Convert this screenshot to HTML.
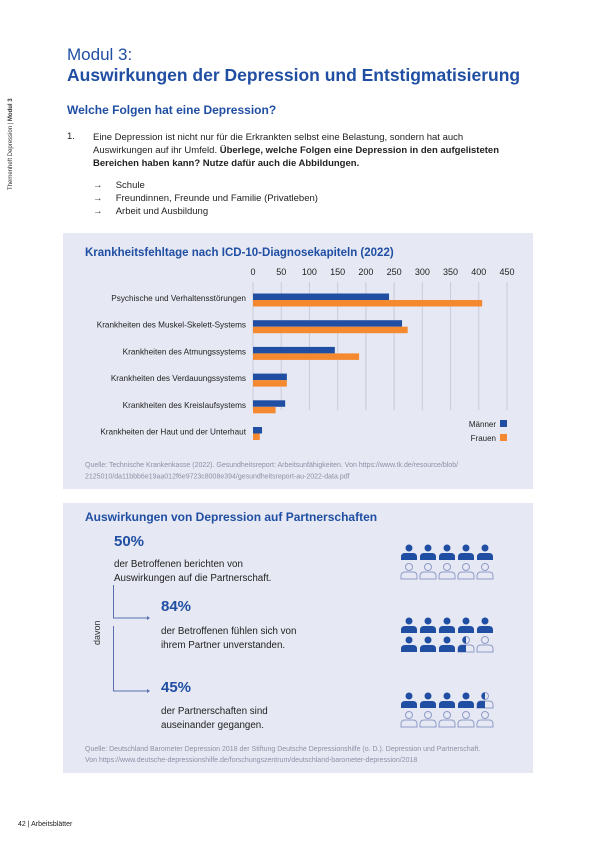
<!DOCTYPE html>
<html><head><meta charset="utf-8"><style>
body{margin:0;width:600px;height:850px;background:#fff;position:relative;overflow:hidden;font-family:"Liberation Sans",sans-serif;color:#222}
.a{position:absolute;white-space:nowrap}
.blue{color:#1f4ea3}
.card{position:absolute;background:#e6e8f3}
</style></head><body>
<div class="a" style="left:8px;top:190px;transform:rotate(-90deg);transform-origin:0 0;font-size:6px;color:#333">Themenheft Depression | <b>Modul 3</b></div>
<div class="a blue" style="left:67px;top:45px;font-size:17px">Modul 3:</div>
<div class="a blue" style="left:67px;top:65px;font-size:17.5px;font-weight:bold">Auswirkungen der Depression und Entstigmatisierung</div>
<div class="a blue" style="left:67px;top:103px;font-size:12px;font-weight:bold">Welche Folgen hat eine Depression?</div>
<div class="a" style="left:67px;top:131px;font-size:9.5px">1.</div>
<div class="a" style="left:93px;top:131px;font-size:9.5px;line-height:13px">Eine Depression ist nicht nur für die Erkrankten selbst eine Belastung, sondern hat auch<br>Auswirkungen auf ihr Umfeld. <b>Überlege, welche Folgen eine Depression in den aufgelisteten<br>Bereichen haben kann? Nutze dafür auch die Abbildungen.</b></div>
<div class="a" style="left:93px;top:179px;font-size:9.5px;line-height:13px">→&nbsp;&nbsp;&nbsp;&nbsp;&nbsp;Schule<br>→&nbsp;&nbsp;&nbsp;&nbsp;&nbsp;Freundinnen, Freunde und Familie (Privatleben)<br>→&nbsp;&nbsp;&nbsp;&nbsp;&nbsp;Arbeit und Ausbildung</div>

<div class="card" style="left:63px;top:233px;width:470px;height:256px"></div>
<svg id="chart" class="a" style="left:0;top:0" width="600" height="500"></svg>

<div class="card" style="left:63px;top:503px;width:470px;height:270px"></div>
<div class="a blue" style="left:85px;top:510px;font-size:12px;font-weight:bold">Auswirkungen von Depression auf Partnerschaften</div>
<div class="a blue" style="left:114px;top:533px;font-size:15px;font-weight:bold">50%</div>
<div class="a" style="left:114px;top:558px;font-size:9.8px;line-height:14px">der Betroffenen berichten von<br>Auswirkungen auf die Partnerschaft.</div>
<div class="a blue" style="left:161px;top:598px;font-size:15px;font-weight:bold">84%</div>
<div class="a" style="left:161px;top:625px;font-size:9.8px;line-height:14px">der Betroffenen fühlen sich von<br>ihrem Partner unverstanden.</div>
<div class="a blue" style="left:161px;top:679px;font-size:15px;font-weight:bold">45%</div>
<div class="a" style="left:161px;top:705px;font-size:9.8px;line-height:14px">der Partnerschaften sind<br>auseinander gegangen.</div>
<div class="a" style="left:92px;top:645px;transform:rotate(-90deg);transform-origin:0 0;font-size:9px;color:#333">davon</div>
<svg class="a" style="left:0;top:0" width="600" height="850">
<path d="M113.5 585V618H148M113.5 626V691H148" fill="none" stroke="#5a6fb0" stroke-width="1"/>
<path d="M147 616L150 618L147 620ZM147 689L150 691L147 693Z" fill="#5a6fb0"/>
</svg>
<svg id="icons" class="a" style="left:0;top:0" width="600" height="850"></svg>
<div class="a" style="left:85px;top:744px;font-size:7px;line-height:11px;color:#8e90a6">Quelle: Deutschland Barometer Depression 2018 der Stiftung Deutsche Depressionshilfe (o. D.). Depression und Partnerschaft.<br>Von https://www.deutsche-depressionshilfe.de/forschungszentrum/deutschland-barometer-depression/2018</div>
<div class="a" style="left:18px;top:821px;font-size:7px">42 | Arbeitsblätter</div>
<script>
const categories=["Psychische und Verhaltensstörungen","Krankheiten des Muskel-Skelett-Systems","Krankheiten des Atmungssystems","Krankheiten des Verdauungssystems","Krankheiten des Kreislaufsystems","Krankheiten der Haut und der Unterhaut"];
const maleValues=[241,264,145,60,57,16];
const femaleValues=[406,274,188,60,40,12];
const tickValues=[0,50,100,150,200,250,300,350,400,450];
const ns="http://www.w3.org/2000/svg";
const svg=document.getElementById('chart');
const x0=253,x1=507,vmax=450;
const xs=v=>x0+(v/vmax)*(x1-x0);
const catY=i=>298+i*26.7;
function mk(tag,attrs,parent){const e=document.createElementNS(ns,tag);for(const k in attrs)e.setAttribute(k,attrs[k]);(parent||svg).appendChild(e);return e;}
const t=mk('text',{x:85,y:256,'font-size':11.5,'font-weight':'bold',fill:'#1f4ea3'});


t.textContent="Krankheitsfehltage nach ICD-10-Diagnosekapiteln (2022)";
tickValues.forEach(v=>{
  const l=mk('line',{x1:xs(v),x2:xs(v),y1:282,y2:410,stroke:'#c9cbd8','stroke-width':1});
  
  
  const tx=mk('text',{x:xs(v),y:275,'font-size':9,'text-anchor':'middle',fill:'#222'});
  
  
  tx.textContent=v;
});
categories.forEach((c,i)=>{
  const y=catY(i);
  const lb=mk('text',{x:246,y:y+3,'font-size':8.2,'text-anchor':'end',fill:'#222'});
  
  
  lb.textContent=c;
  const bm=mk('rect',{x:x0,y:y-4.5,width:xs(maleValues[i])-x0,height:6.5,fill:'#1f4ea3'});
  
  
  const bf=mk('rect',{x:x0,y:y+2,width:xs(femaleValues[i])-x0,height:6.5,fill:'#f4892f'});
  
  
});
[["Männer","#1f4ea3",427],["Frauen","#f4892f",441]].forEach(([n,c,y])=>{
  const tx=mk('text',{x:496,y:y,'font-size':8,'text-anchor':'end',fill:'#222'});
  
  
  tx.textContent=n;
  const r=mk('rect',{x:500,y:y-7,width:7,height:7,fill:c});
  
  
});
["Quelle: Technische Krankenkasse (2022). Gesundheitsreport: Arbeitsunfähigkeiten. Von https://www.tk.de/resource/blob/","2125010/da11bbb6e19aa012f6e9723c8008e394/gesundheitsreport-au-2022-data.pdf"].forEach((s,i)=>{
  const tx=mk('text',{x:85,y:467+i*11.5,'font-size':7,fill:'#8e90a6'});
  
  
  tx.textContent=s;
});
const groupFill=[5,8.5,4.5];
const groupTop=[544,617,692];
const isvg=document.getElementById('icons');
const colX=[409,428,447,466,485];
function person(cx,top,frac){
  const g=mk('g',{},isvg);
  
  
  const col='#1f4ea3';
  const head=`M${cx-3.5} ${top+4}a3.5 3.5 0 1 0 7 0a3.5 3.5 0 1 0 -7 0Z`;
  const body=`M${cx-8} ${top+16}v-3q0-4 4-4h8q4 0 4 4v3Z`;
  if(frac>=1){mk('path',{d:head+body,fill:col},g);}
  else{
    mk('path',{d:head,fill:'none',stroke:'#8f9cc8','stroke-width':1},g);
    mk('path',{d:body,fill:'none',stroke:'#8f9cc8','stroke-width':1},g);
    if(frac>0){
      const id='c'+Math.round(cx)+'_'+top;
      const cp=mk('clipPath',{id:id},g);
      mk('rect',{x:cx-8,y:top,width:16*frac,height:17},cp);
      mk('path',{d:head+body,fill:col,'clip-path':`url(#${id})`},g);
    }
  }
}
groupFill.forEach((f,gi)=>{
  for(let k=0;k<10;k++){
    const row=Math.floor(k/5),c=k%5;
    const frac=Math.max(0,Math.min(1,f-k));
    person(colX[c],groupTop[gi]+row*19,frac);
  }
});
</script>
</body></html>
